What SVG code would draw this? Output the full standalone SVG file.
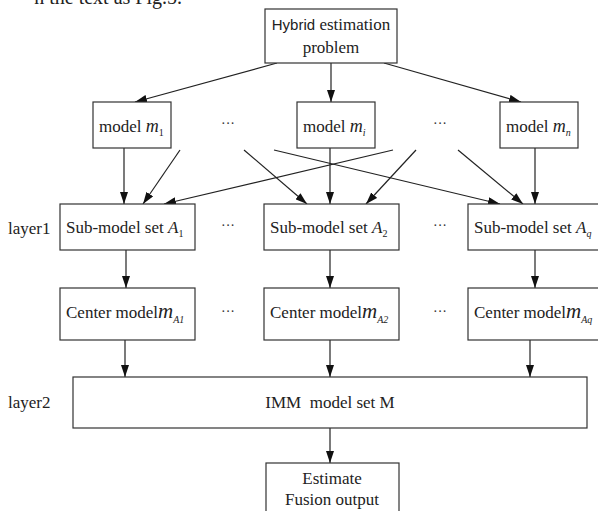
<svg xmlns="http://www.w3.org/2000/svg" width="598" height="511" viewBox="0 0 598 511">
<defs>
<marker id="ah" viewBox="0 0 12 8" refX="12" refY="4" markerWidth="12" markerHeight="8" markerUnits="userSpaceOnUse" orient="auto">
<path d="M0,0 L12,4 L0,8 Z" fill="#111"/>
</marker>
<style>
.box{fill:#fff;stroke:#333;stroke-width:1.2}
.t{font-family:"Liberation Serif","Times New Roman",serif;font-size:17px;fill:#222}
.it{font-style:italic}
.sub{font-size:10px}
.c{stroke:#222;stroke-width:1.2;fill:none;marker-end:url(#ah)}
.dots{font-family:"Liberation Serif",serif;font-size:14px;fill:#333}
</style>
</defs>
<rect width="598" height="511" fill="#fff"/>
<text class="t" x="182" y="4" text-anchor="end" style="font-size:20px">n the text as Fig.5.</text>

<g id="connectors">
<line class="c" x1="277" y1="63" x2="135" y2="102"/>
<line class="c" x1="331" y1="63" x2="331" y2="102"/>
<line class="c" x1="384" y1="63" x2="521" y2="102"/>
<line class="c" x1="124" y1="148" x2="124" y2="204"/>
<line class="c" x1="180" y1="150" x2="143" y2="204"/>
<line class="c" x1="393" y1="150" x2="164" y2="204"/>
<line class="c" x1="244" y1="150" x2="307" y2="204"/>
<line class="c" x1="330" y1="148" x2="330" y2="204"/>
<line class="c" x1="416" y1="150" x2="366" y2="204"/>
<line class="c" x1="274" y1="150" x2="500" y2="204"/>
<line class="c" x1="458" y1="150" x2="523" y2="204"/>
<line class="c" x1="535" y1="148" x2="535" y2="204"/>
<line class="c" x1="126" y1="250" x2="126" y2="288"/>
<line class="c" x1="330" y1="250" x2="330" y2="288"/>
<line class="c" x1="535" y1="250" x2="535" y2="288"/>
<line class="c" x1="125" y1="340" x2="125" y2="377"/>
<line class="c" x1="330" y1="340" x2="330" y2="377"/>
<line class="c" x1="530" y1="340" x2="530" y2="377"/>
<line class="c" x1="330" y1="428" x2="330" y2="463"/>
</g>

<g id="hybrid">
<rect class="box" x="265" y="9" width="132" height="54"/>
<text class="t" x="331" y="30" text-anchor="middle"><tspan style="font-family:'Liberation Sans',Arial,sans-serif;font-size:15px">Hybrid</tspan> estimation</text>
<text class="t" x="331" y="53" text-anchor="middle">problem</text>
</g>

<g id="model1">
<rect class="box" x="93" y="102" width="78" height="46"/>
<text class="t" x="99" y="132">model <tspan class="it" style="font-size:18px">m</tspan><tspan class="sub" dy="4">1</tspan></text>
</g>
<g id="modeli">
<rect class="box" x="297" y="102" width="78" height="46"/>
<text class="t" x="303" y="132">model <tspan class="it" style="font-size:18px">m</tspan><tspan class="sub it" dy="4">i</tspan></text>
</g>
<g id="modeln">
<rect class="box" x="500" y="102" width="78" height="46"/>
<text class="t" x="506" y="132">model <tspan class="it" style="font-size:18px">m</tspan><tspan class="sub it" dy="4">n</tspan></text>
</g>
<text class="dots" x="228" y="128" text-anchor="middle">···</text>
<text class="dots" x="440" y="128" text-anchor="middle">···</text>

<text class="t" x="8" y="234">layer1</text>
<g id="subA1">
<rect class="box" x="60" y="204" width="135" height="46"/>
<text class="t" x="66" y="233">Sub-model set <tspan class="it">A</tspan><tspan class="sub" dy="4">1</tspan></text>
</g>
<g id="subA2">
<rect class="box" x="264" y="204" width="135" height="46"/>
<text class="t" x="270" y="233">Sub-model set <tspan class="it">A</tspan><tspan class="sub" dy="4">2</tspan></text>
</g>
<g id="subAq">
<rect class="box" x="468" y="204" width="140" height="46"/>
<text class="t" x="474" y="233">Sub-model set <tspan class="it">A</tspan><tspan class="sub it" dy="4">q</tspan></text>
</g>
<text class="dots" x="228" y="230" text-anchor="middle">···</text>
<text class="dots" x="440" y="230" text-anchor="middle">···</text>

<g id="centerA1">
<rect class="box" x="60" y="288" width="135" height="52"/>
<text class="t" x="66" y="318">Center model<tspan class="it" style="font-size:21px">m</tspan><tspan class="sub it" dy="5">A1</tspan></text>
</g>
<g id="centerA2">
<rect class="box" x="264" y="288" width="135" height="52"/>
<text class="t" x="270" y="318">Center model<tspan class="it" style="font-size:21px">m</tspan><tspan class="sub it" dy="5">A2</tspan></text>
</g>
<g id="centerAq">
<rect class="box" x="468" y="288" width="140" height="52"/>
<text class="t" x="474" y="318">Center model<tspan class="it" style="font-size:21px">m</tspan><tspan class="sub it" dy="5">Aq</tspan></text>
</g>
<text class="dots" x="228" y="316" text-anchor="middle">···</text>
<text class="dots" x="440" y="316" text-anchor="middle">···</text>

<text class="t" x="8" y="408">layer2</text>
<g id="imm">
<rect class="box" x="73" y="377" width="514" height="51"/>
<text class="t" x="330" y="408" text-anchor="middle" xml:space="preserve">IMM  model set M</text>
</g>

<g id="estimate">
<rect class="box" x="266" y="463" width="133" height="60"/>
<text class="t" x="332" y="484" text-anchor="middle">Estimate</text>
<text class="t" x="332" y="505" text-anchor="middle">Fusion output</text>
</g>
</svg>
